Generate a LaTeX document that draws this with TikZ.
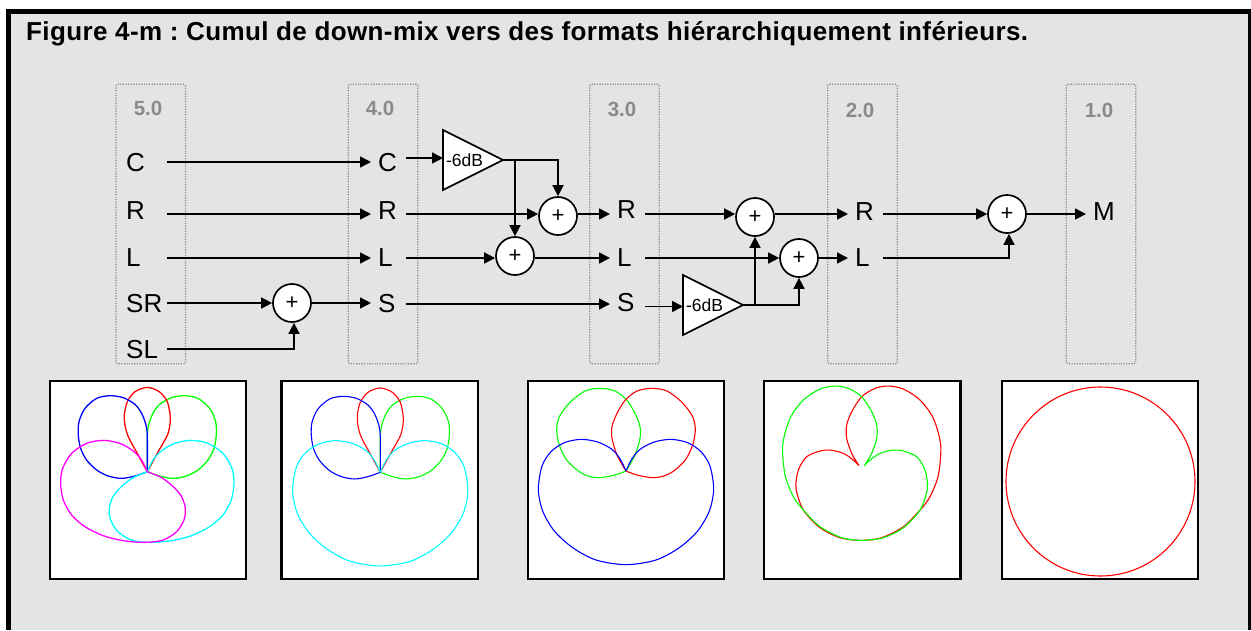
\documentclass[tikz,border=0pt]{standalone}
\usepackage{fontspec}
\setmainfont{Liberation Sans}
\usetikzlibrary{arrows.meta,shapes.geometric}
\frenchspacing

% polar lobes, drawn round their origin
\newcommand{\sidelobe}[1]{\draw[#1] plot[smooth] coordinates {(0,0) (0,-105) (-4,-140) (-17,-175) (-37,-202) (-72,-222) (-112,-228) (-152,-220) (-187,-190) (-205,-150) (-207,-110) (-200,-70) (-182,-35) (-152,-5) (-117,13) (-77,20) (-37,13) (0,0)};}
\newcommand{\frontlobe}[1]{\draw[#1] plot[smooth] coordinates {(0,0) (-30,-55) (-57,-105) (-67,-140) (-69,-170) (-60,-210) (-37,-240) (0,-253) (36,-240) (60,-210) (69,-165) (66,-130) (58,-105) (30,-55) (0,0)};}
\newcommand{\surrlobe}[1]{\draw[#1] plot[smooth] coordinates {(0,0) (-17,-35) (-42,-62) (-82,-85) (-132,-94) (-182,-85) (-227,-55) (-254,-10) (-260,35) (-252,85) (-227,130) (-187,165) (-132,192) (-72,207) (-7,212) (48,205) (88,180) (110,145) (114,110) (103,75) (78,45) (43,18) (0,0)};}
\newcommand{\biglobe}[1]{\draw[#1] plot[smooth] coordinates {(0,0) (-17,-35) (-42,-65) (-85,-87) (-135,-95) (-185,-85) (-225,-58) (-252,-15) (-263,55) (-250,120) (-215,180) (-160,230) (-90,267) (0,281) (90,267) (160,230) (215,180) (250,120) (263,55) (252,-15) (225,-58) (185,-85) (135,-95) (85,-87) (42,-65) (17,-35) (0,0)};}
\newcommand{\midlobe}[1]{\draw[#1] plot[smooth] coordinates {(0,0) (27,-48) (42,-98) (42,-133) (27,-173) (2,-213) (-33,-240) (-78,-248) (-123,-240) (-168,-206) (-200,-163) (-208,-123) (-200,-78) (-178,-33) (-143,0) (-113,15) (-78,20) (-33,12) (0,0)};}
\newcommand{\widelobe}[1]{\draw[#1] plot[smooth] coordinates {(8,0) (30,-37) (45,-82) (45,-122) (30,-162) (0,-207) (-40,-232) (-80,-239) (-125,-230) (-175,-197) (-215,-142) (-237,-62) (-230,28) (-205,93) (-175,133) (-125,183) (-60,216) (0,224) (65,216) (125,186) (175,133) (197,68) (190,13) (165,-27) (125,-44) (95,-47) (55,-37) (25,-17) (8,0)};}

\definecolor{panel}{HTML}{E4E4E4}
\definecolor{tiergray}{HTML}{8A8A8A}
\definecolor{lobered}{HTML}{FF0000}
\definecolor{lobegreen}{HTML}{00FF00}
\definecolor{lobeblue}{HTML}{0000FF}
\definecolor{lobecyan}{HTML}{00FFFF}
\definecolor{lobepink}{HTML}{FF00FF}

\tikzset{
  tier/.style={draw=tiergray,line width=1.1pt,dash pattern=on 1.2pt off 1.4pt,rounded corners=1.5pt,minimum width=69.5pt,minimum height=279.5pt,inner sep=0pt},
  tierlab/.style={text=tiergray,font=\fontsize{20.5}{20.5}\selectfont\bfseries,inner sep=0pt},
  chan/.style={anchor=west,inner xsep=7pt,inner ysep=0pt,text width=21pt,align=left,text height=18pt,text depth=0pt,font=\fontsize{26}{26}\selectfont},
  lift/.style={text depth=#1pt},
  sumnode/.style={draw,circle,fill=white,line width=1.7pt,minimum size=38pt,inner sep=0pt,outer sep=0.85pt,font=\fontsize{22}{22}\selectfont},
  gain/.style={draw,fill=white,line width=1.7pt,isosceles triangle,isosceles triangle stretches,minimum width=60pt,minimum height=60pt,inner sep=0pt,outer sep=0pt,anchor=apex,font=\fontsize{17.5}{17.5}\selectfont},
  sig/.style={line width=1.6pt,-{Triangle[length=11pt,width=11pt]}},
  plotbox/.style={draw,fill=white,line width=2.4pt,minimum width=196.5pt,minimum height=198pt,inner sep=0pt},
  lobes/.style={x=0.3333pt,y=-0.3333pt,line width=1.1pt}
}

\begin{document}
\begin{tikzpicture}[x=1pt,y=-1pt]
\useasboundingbox (0,0) rectangle (1251,630);
\fill[white] (0,0) rectangle (1251,630);
\fill[black] (6,9) rectangle (1251,630);
\fill[panel] (11,14) rectangle (1248,630);

\node[anchor=base west,inner sep=0pt,font=\fontsize{26}{26}\selectfont\bfseries\addfontfeature{LetterSpace=1.5}] (title) at (26,40.5) {Figure 4-m : Cumul de down-mix vers des formats hiérarchiquement inférieurs.};

% format columns
\node[tier] (t5) at (150.7,224) {};
\node[tier] (t4) at (383,224) {};
\node[tier] (t3) at (624.5,224) {};
\node[tier] (t2) at (862.5,224) {};
\node[tier] (t1) at (1101,224) {};
\node[tierlab] (n5) at (148,108) {5.0};
\node[tierlab] (n4) at (380,108) {4.0};
\node[tierlab] (n3) at (622,109) {3.0};
\node[tierlab] (n2) at (860,110) {2.0};
\node[tierlab] (n1) at (1099,110) {1.0};

\node[chan,text width=34pt] (c5) at (119,162) {C};
\node[chan,text width=34pt,lift=8] (r5) at (119,214) {R};
\node[chan,text width=34pt,lift=2] (l5) at (119,258) {L};
\node[chan,text width=34pt] (sr5) at (119,303) {SR};
\node[chan,text width=34pt] (sl5) at (119,349) {SL};

\node[chan] (c4) at (371,162) {C};
\node[chan,lift=8] (r4) at (371,214) {R};
\node[chan,lift=2] (l4) at (371,258) {L};
\node[chan,lift=2] (s4) at (371,304) {S};

\node[chan,lift=10] (r3) at (610,214) {R};
\node[chan,lift=2] (l3) at (610,258) {L};
\node[chan,lift=4] (s3) at (610,304) {S};

\node[chan,lift=6] (r2) at (848,214) {R};
\node[chan,lift=2] (l2) at (848,258) {L};

\node[chan,lift=6] (m1) at (1086,214) {M};

% adders and gains
\node[sumnode] (sum1) at (292,303) {+};
\node[sumnode] (sum2) at (558,216) {+};
\node[sumnode] (sum3) at (515,256) {+};
\node[sumnode] (sum4) at (755,217) {+};
\node[sumnode] (sum5) at (799,258) {+};
\node[sumnode] (sum6) at (1007,214) {+};
\node[gain] (g1) at (503,160) {-6dB};
\node[gain] (g2) at (743,305) {-6dB};

\draw[sig] (c5.east) -- (c4.west);
\draw[sig] (r5.east) -- (r4.west);
\draw[sig] (l5.east) -- (l4.west);
\draw[sig] (sr5.east) -- (sum1.west);
\draw[sig] (sl5.east) -| ([xshift=2pt]sum1.south);
\draw[sig] (sum1.east) -- (sum1.east -| s4.west);
\draw[sig] ([yshift=4pt]c4.east) -- ([yshift=2pt]g1.lower side);
\draw[sig] (g1.apex) -| (sum2.north);
\draw[sig] (g1.apex -| sum3.north) -- (sum3.north);
\draw[sig] (r4.east) -- (r4.east -| sum2.west);
\draw[sig] (l4.east) -- (l4.east -| sum3.west);
\draw[sig] (s4.east) -- (s3.west);
\draw[sig] (r3.west -| sum2.east) -- (r3.west);
\draw[sig] (l3.west -| sum3.east) -- (l3.west);
\draw[sig] (r3.east) -- (r3.east -| sum4.west);
\draw[sig] (l3.east) -- (sum5.west);
\draw[sig] ([yshift=-2.5pt]s3.east) -- ([yshift=-1.5pt]g2.lower side);
\draw[sig] (g2.apex) -| (sum5.south);
\draw[sig] (g2.apex -| sum4.south) -- (sum4.south);
\draw[sig] (r2.west -| sum4.east) -- (r2.west);
\draw[sig] (sum5.east) -- (l2.west);
\draw[sig] (r2.east) -- (sum6.west);
\draw[sig] (l2.east) -| ([xshift=2pt]sum6.south);
\draw[sig] (sum6.east) -- (m1.west);

% polar plots
\node[plotbox] (p1) at (148,480) {};
\node[plotbox] (p2) at (379.7,480) {};
\node[plotbox] (p3) at (626,480) {};
\node[plotbox] (p4) at (862.3,480) {};
\node[plotbox] (p5) at (1100,480) {};

\begin{scope}[shift={(147.3,471.7)},lobes,line width=1.3pt]
\sidelobe{lobegreen,xscale=-1}
\frontlobe{lobered}
\sidelobe{lobeblue}
\surrlobe{lobecyan,xscale=-1}
\surrlobe{lobepink}
\end{scope}

\begin{scope}[shift={(380.3,472.3)},lobes]
\sidelobe{lobegreen,xscale=-1}
\frontlobe{lobered}
\sidelobe{lobeblue}
\biglobe{lobecyan}
\end{scope}

\begin{scope}[shift={(626,471)},lobes]
\midlobe{lobegreen}
\midlobe{lobered,xscale=-1}
\biglobe{lobeblue}
\end{scope}

\begin{scope}[shift={(861.7,465.7)},lobes]
\widelobe{lobered,xscale=-1}
\widelobe{lobegreen}
\end{scope}

\draw[lobered,line width=1.1pt] (1100.5,481.5) circle (94.5);
\end{tikzpicture}
\end{document}
